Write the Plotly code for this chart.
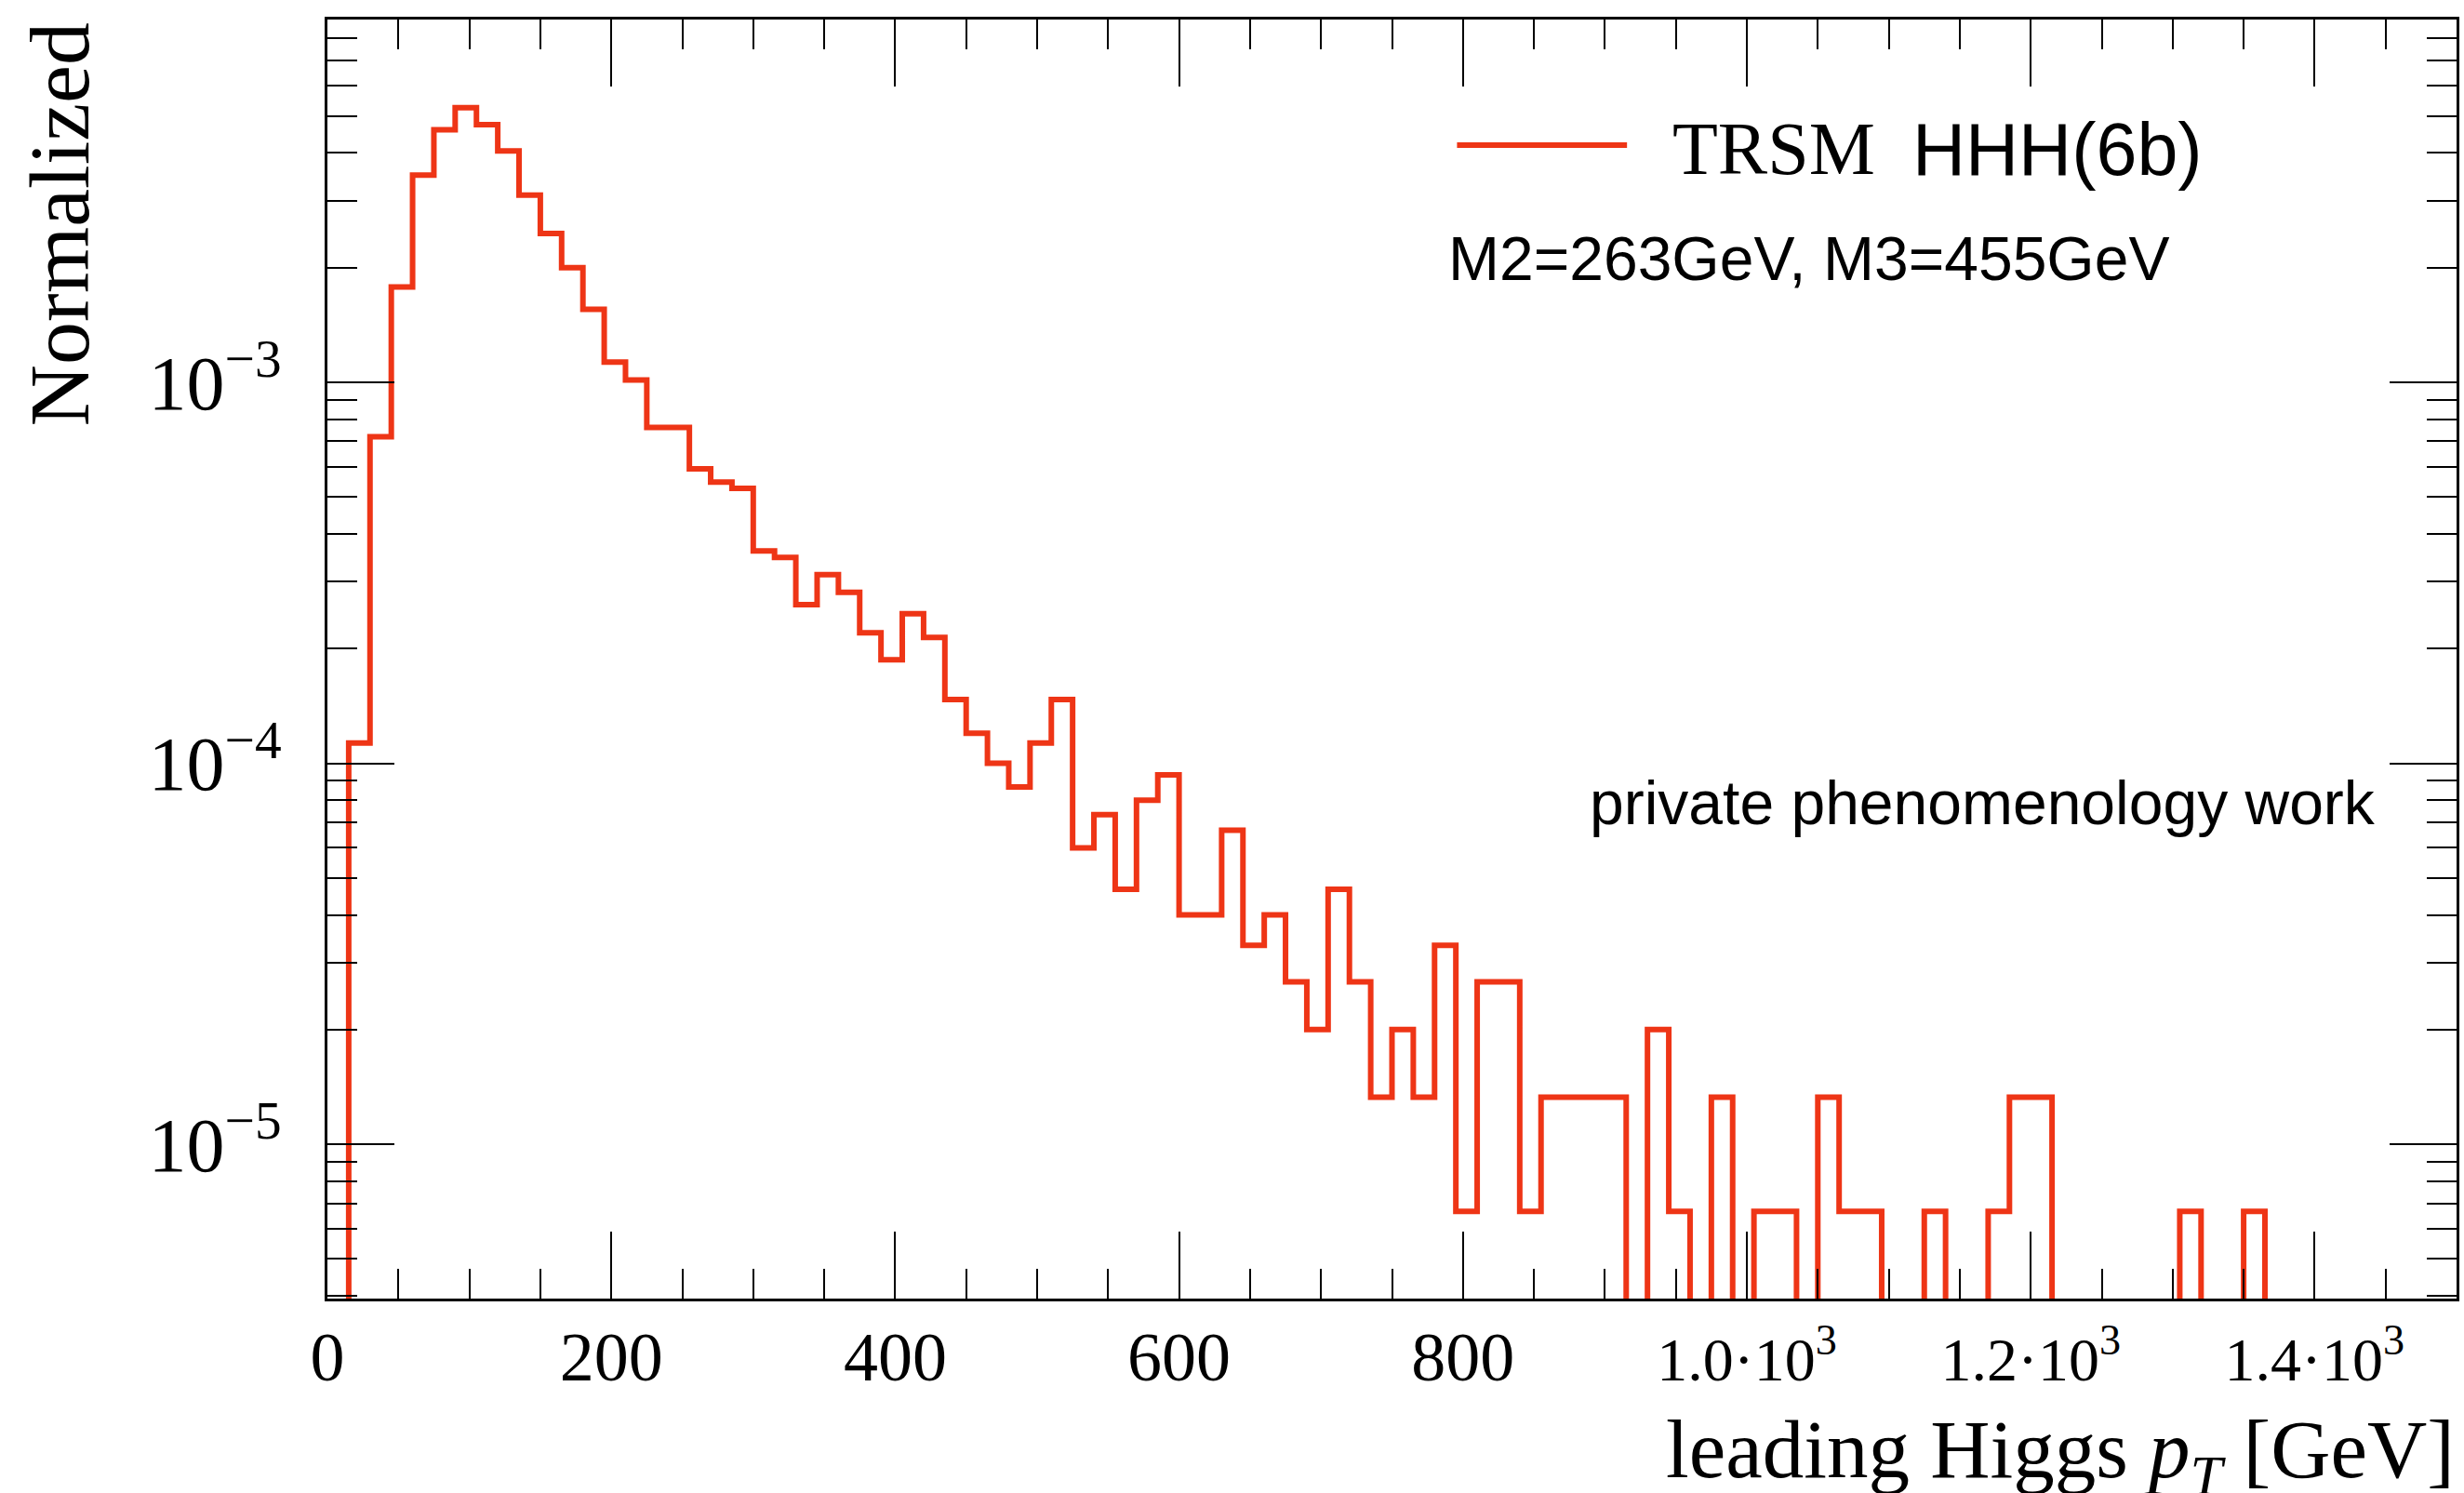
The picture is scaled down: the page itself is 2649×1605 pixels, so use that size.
import numpy as np
import plotly.graph_objects as go

# leading Higgs pT histogram, 15 GeV bins from 0 to 1500 GeV (normalized)
bin_width = 15.0
bin_low = 0.0
norm_values = [
    0.0, 1.13e-4, 7.2e-4, 1.78e-3, 3.50e-3, 4.60e-3, 5.26e-3, 4.75e-3, 4.05e-3, 3.10e-3,
    2.46e-3, 2.00e-3, 1.556e-3, 1.13e-3, 1.015e-3, 7.62e-4, 7.62e-4, 5.93e-4, 5.47e-4, 5.27e-4,
    3.61e-4, 3.47e-4, 2.61e-4, 3.13e-4, 2.81e-4, 2.20e-4, 1.87e-4, 2.47e-4, 2.14e-4, 1.47e-4,
    1.20e-4, 1.00e-4, 8.67e-5, 1.13e-4, 1.47e-4, 6.0e-5, 7.33e-5, 4.67e-5, 8.0e-5, 9.33e-5,
    4.0e-5, 4.0e-5, 6.67e-5, 3.33e-5, 4.0e-5, 2.67e-5, 2.0e-5, 4.67e-5, 2.67e-5, 1.33e-5,
    2.0e-5, 1.33e-5, 3.33e-5, 6.67e-6, 2.67e-5, 2.67e-5, 6.67e-6, 1.33e-5, 1.33e-5, 1.33e-5,
    1.33e-5, 0.0, 2.0e-5, 6.67e-6, 0.0, 1.33e-5, 0.0, 6.67e-6, 6.67e-6, 0.0,
    1.33e-5, 6.67e-6, 6.67e-6, 0.0, 0.0, 6.67e-6, 0.0, 0.0, 6.67e-6, 1.33e-5,
    1.33e-5, 0.0, 0.0, 0.0, 0.0, 0.0, 0.0, 6.67e-6, 0.0, 0.0,
    6.67e-6, 0.0, 0.0, 0.0, 0.0, 0.0, 0.0, 0.0, 0.0, 0.0,
]

x_major = [0, 200, 400, 600, 800, 1000, 1200, 1400]
x_major_text = ["0", "200", "400", "600", "800",
                '<span style="font-size:66px">1.0\u00b710<sup>3</sup></span>',
                '<span style="font-size:66px">1.2\u00b710<sup>3</sup></span>',
                '<span style="font-size:66px">1.4\u00b710<sup>3</sup></span>']
x_minor = [v for v in range(50, 1500, 50) if v % 200 != 0]
y_major = [1e-5, 1e-4, 1e-3]
y_major_text = ["10<sup>\u22125</sup>", "10<sup>\u22124</sup>", "10<sup>\u22123</sup>"]
y_minor = [k * 10.0 ** e for e in range(-6, -2) for k in range(2, 10)]

legend_label = ("TRSM", "HHH(6b)")
info_text = "M2=263GeV, M3=455GeV"
note_text = "private phenomenology work"

RED = "#ee3516"
SERIF = "Liberation Serif"
SANS = "Liberation Sans"

edges = bin_low + bin_width * np.arange(len(norm_values) + 1)
# empty bins are sent far below the visible range so the outline drops off the axis
floor = 1e-9
y_draw = [v if v > 0 else floor for v in norm_values]
x_step = list(edges)
y_step = y_draw + [y_draw[-1]]

fig = go.Figure()
fig.add_trace(go.Scatter(
    x=x_step, y=y_step, mode="lines",
    line=dict(shape="hv", color=RED, width=6),
    showlegend=False, hoverinfo="skip",
))

W, H = 2649, 1605
ml, mr, mt, mb = 352, 5, 21, 209

fig.update_layout(
    width=W, height=H,
    margin=dict(l=ml, r=mr, t=mt, b=mb, pad=0),
    paper_bgcolor="white", plot_bgcolor="white",
    showlegend=False,
    xaxis=dict(
        range=[0, 1500], showline=True, linecolor="black", linewidth=3,
        mirror="allticks", ticks="inside", ticklen=72, tickwidth=2, tickcolor="black",
        tickmode="array", tickvals=x_major, ticktext=x_major_text,
        tickfont=dict(family=SERIF, size=74, color="black"),
        ticklabelstandoff=-4,
        showgrid=False, zeroline=False,
        minor=dict(tickmode="array", tickvals=x_minor, ticks="inside",
                   ticklen=32, tickwidth=2, tickcolor="black", showgrid=False),
    ),
    yaxis=dict(
        type="log", range=[-5.405, -2.0476], showline=True, linecolor="black", linewidth=3,
        mirror="allticks", ticks="inside", ticklen=72, tickwidth=2, tickcolor="black",
        tickmode="array", tickvals=y_major, ticktext=y_major_text,
        tickfont=dict(family=SERIF, size=82, color="black"),
        ticklabelstandoff=30,
        showgrid=False, zeroline=False,
        minor=dict(tickmode="array", tickvals=y_minor, ticks="inside",
                   ticklen=32, tickwidth=2, tickcolor="black", showgrid=False),
    ),
)


def px_x(p):
    return (p - ml) / (W - ml - mr)


def px_y(p):
    return (H - mb - p) / (H - mt - mb)


# legend key
fig.add_shape(type="line", xref="paper", yref="paper",
              x0=px_x(1568), x1=px_x(1751), y0=px_y(156), y1=px_y(156),
              line=dict(color=RED, width=6))

annotations = [
    dict(text=legend_label[0], x=px_x(1798), y=px_y(160), xanchor="left", yanchor="middle",
         font=dict(family=SERIF, size=80, color="black")),
    dict(text=legend_label[1], x=px_x(2056), y=px_y(160), xanchor="left", yanchor="middle",
         font=dict(family=SANS, size=79, color="black")),
    dict(text=info_text, x=px_x(1557), y=px_y(278), xanchor="left", yanchor="middle",
         font=dict(family=SANS, size=66, color="black")),
    dict(text=note_text, x=px_x(2134), y=px_y(863), xanchor="center", yanchor="middle",
         font=dict(family=SANS, size=66, color="black")),
    dict(text="leading Higgs <i>p</i><sub><i>T</i></sub> [GeV]", x=px_x(2644), y=px_y(1564),
         xanchor="right", yanchor="middle",
         font=dict(family=SERIF, size=89, color="black")),
    dict(text="Normalized", x=px_x(64), y=px_y(22), xanchor="center", yanchor="top",
         textangle=-90, font=dict(family=SERIF, size=92, color="black")),
]
for a in annotations:
    a.update(xref="paper", yref="paper", showarrow=False)
fig.update_layout(annotations=annotations)

fig.write_html("out.html")
